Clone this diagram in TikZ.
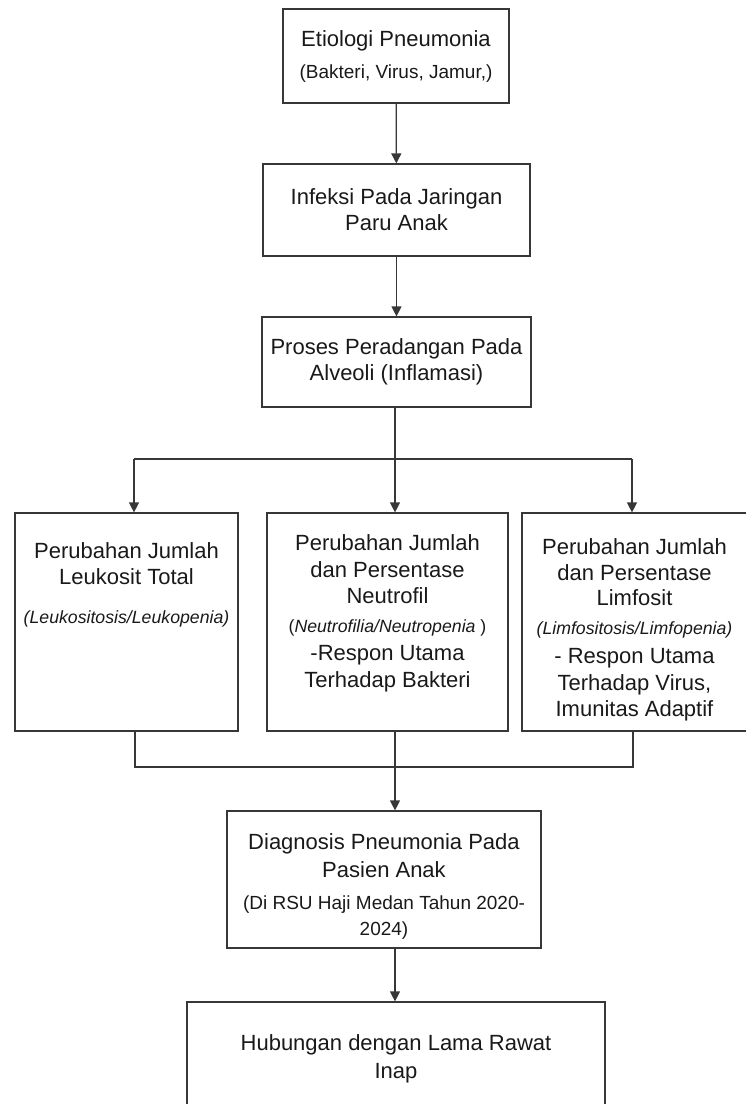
\documentclass[tikz,border=0pt]{standalone}
\usepackage{fontspec}
\setmainfont{Liberation Sans}
\usepackage{tikz}
\usetikzlibrary{arrows.meta, positioning, calc}
\usepackage{xcolor}
\definecolor{linegray}{RGB}{55,55,55}
\definecolor{textgray}{RGB}{25,25,25}
\newcommand{\subtext}[1]{{\fontsize{19}{23}\selectfont #1}}
\newcommand{\smallit}[1]{{\fontsize{17.7}{21}\selectfont\itshape #1}}
\newcommand{\smallup}[1]{{\fontsize{17.7}{21}\selectfont #1}}
\tikzset{
  basebox/.style={
    rectangle, draw=linegray, line width=1.2pt, align=center, text=textgray,
    inner sep=0pt, font=\fontsize{22}{26}\selectfont
  },
  arrow/.style={-{Triangle[length=10pt,width=10pt]}, line width=1.2pt, draw=linegray},
  joinline/.style={line width=1.2pt, draw=linegray}
}

\begin{document}
\begin{tikzpicture}[x=1pt, y=-1pt]
  \useasboundingbox (0,0) rectangle (746,1104);

  \node[basebox, minimum width=226pt, minimum height=94pt] (etiologi) at (396,56)
        {Etiologi Pneumonia\\[6pt]\subtext{(Bakteri, Virus, Jamur,)}};
  \node[basebox, minimum width=267pt, minimum height=92pt] (infeksi) at (396.5,210)
        {Infeksi Pada Jaringan\\Paru Anak};
  \node[basebox, minimum width=269pt, minimum height=90pt] (radang) at (396.5,362)
        {Proses Peradangan Pada\\Alveoli (Inflamasi)};

  % empty lines push the text up or down inside the tall boxes
  \node[basebox, minimum width=223pt, minimum height=218pt] (leukosit) at (126.5,622)
        {Perubahan Jumlah\\Leukosit Total\\[13pt]\smallit{(Leukositosis/Leukopenia)}\\[52pt]\mbox{}};
  \node[basebox, minimum width=241pt, minimum height=218pt] (neutrofil) at (387.5,622)
        {Perubahan Jumlah\\[1pt]dan Persentase\\Neutrofil\\[3pt]\smallup{(\textit{Neutrofilia/Neutropenia} )}\\[2pt]-Respon Utama\\[1pt]Terhadap Bakteri\\[-5pt]\mbox{}};
  \node[basebox, minimum width=225pt, minimum height=218pt] (limfosit) at (634.5,622)
        {\mbox{}\\[6pt]Perubahan Jumlah\\dan Persentase\\[-1pt]Limfosit\\[3pt]\smallit{(Limfositosis/Limfopenia)}\\[3pt]- Respon Utama\\[1pt]Terhadap Virus,\\Imunitas Adaptif};

  \node[basebox, minimum width=314pt, minimum height=137pt] (diagnosis) at (384,879.5)
        {\mbox{}\\[4pt]Diagnosis Pneumonia Pada\\[2pt]Pasien Anak\\[6pt]\subtext{(Di RSU Haji Medan Tahun 2020-}\\\subtext{2024)}};
  \node[basebox, minimum width=418pt, minimum height=114pt] (lamarawat) at (396,1059)
        {Hubungan dengan Lama Rawat\\[2pt]Inap};

  % branch points
  \coordinate (split) at (395,459);
  \coordinate (lft) at (134,459);
  \coordinate (rgt) at (632,459);
  \coordinate (merge) at (395,767);
  \coordinate (mlft) at (135,767);
  \coordinate (mrgt) at (633,767);

  \draw[arrow] (etiologi) -- (infeksi);
  \draw[arrow] (infeksi) -- (radang);

  \draw[joinline] (radang.south -| split) -- (split);
  \draw[joinline] (lft) -- (rgt);
  \draw[arrow] (lft) -- (lft |- leukosit.north);
  \draw[arrow] (split) -- (split |- neutrofil.north);
  \draw[arrow] (rgt) -- (rgt |- limfosit.north);

  \draw[joinline] (leukosit.south -| mlft) -- (mlft) -- (mrgt) -- (limfosit.south -| mrgt);
  \draw[joinline] (neutrofil.south -| merge) -- (merge);
  \draw[arrow] (merge) -- (merge |- diagnosis.north);
  \draw[arrow] (diagnosis.south -| merge) -- (merge |- lamarawat.north);
\end{tikzpicture}
\end{document}
